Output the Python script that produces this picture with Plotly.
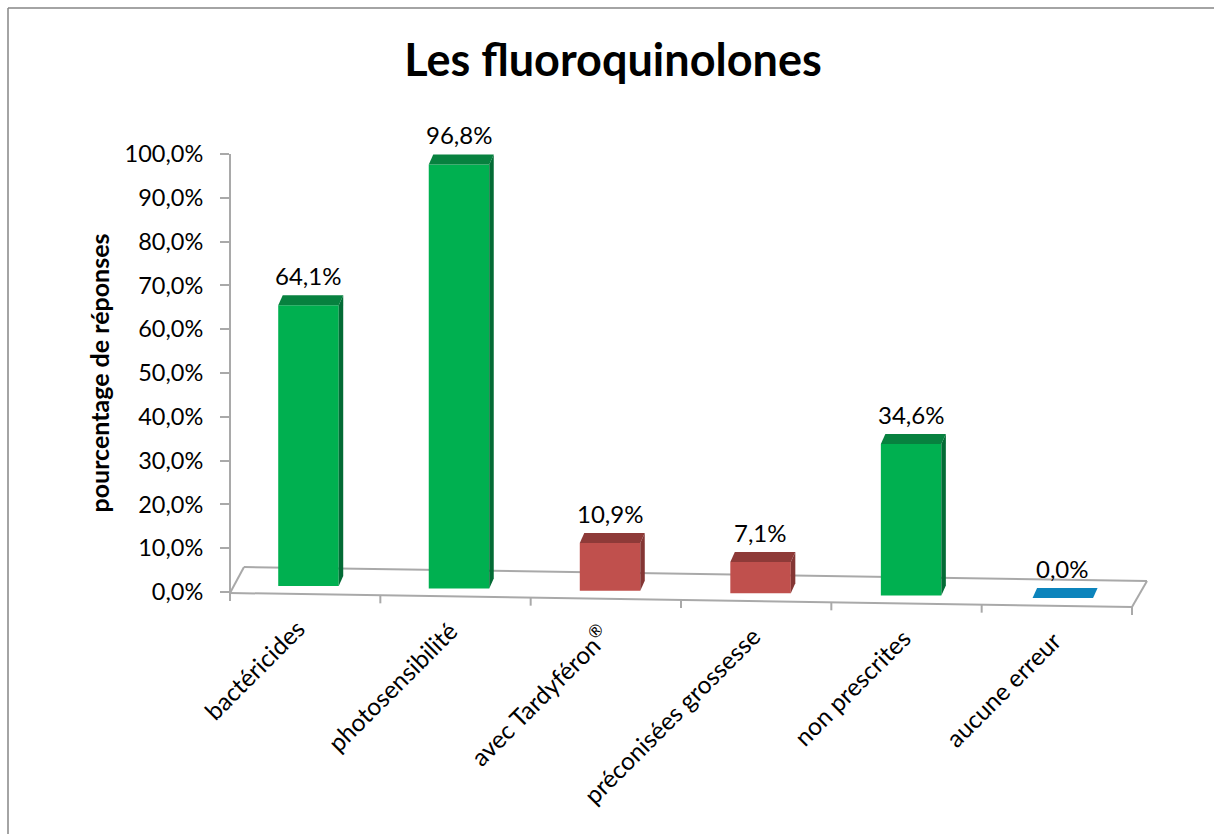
import plotly.graph_objects as go

# --- data ---
categories = ["bactéricides", "photosensibilité", "avec Tardyféron®",
              "préconisées grossesse", "non prescrites", "aucune erreur"]
values = [64.1, 96.8, 10.9, 7.1, 34.6, 0.0]
value_labels = ["64,1%", "96,8%", "10,9%", "7,1%", "34,6%", "0,0%"]
y_ticks = [0, 10, 20, 30, 40, 50, 60, 70, 80, 90, 100]

front_colors = ["#00B050", "#00B050", "#C0504D", "#C0504D", "#00B050", "#0C84BC"]
top_colors = ["#07813F", "#07813F", "#8E3A38", "#8E3A38", "#07813F", "#0C84BC"]
side_colors = ["#036B35", "#036B35", "#843634", "#843634", "#036B35", "#0C84BC"]

# --- layout geometry (pixels of the 1214x834 page) ---
W, H = 1214, 834
PL, PR, PT, PB = 230, 1132, 106, 640      # plot area
Y0, PX_PER_UNIT = 592, 4.38               # pixel of value 0, pixels per value unit
PX_PER_CAT = (PR - PL) / len(categories)
X_RANGE = [-0.5, len(categories) - 0.5]
Y_RANGE = [(Y0 - PB) / PX_PER_UNIT, (Y0 - PT) / PX_PER_UNIT]


def dx(px):
    return px / PX_PER_CAT


def dy(px):
    return px / PX_PER_UNIT


def xd(px):
    return (px - PL) / PX_PER_CAT - 0.5


def yd(px):
    return (Y0 - px) / PX_PER_UNIT


def xp(px):
    return (px - PL) / (PR - PL)


def yp(px):
    return (PB - px) / (PB - PT)


# sloped floor: every bar stands a little lower than the previous one
BAR_W = dx(60.5)
SHIFT = [dx(s) for s in (3.3, 3.5, 4.2, 4.4, 4.6, 6.0)]
DEPTH_X, DEPTH_Y = dx(4.5), dy(10)
bases = [dy(6 - 2.4 * i) for i in range(len(categories))]
tops = [b + v for b, v in zip(bases, values)]
x_pos = list(range(len(categories)))
lefts = [x + s - BAR_W / 2 for x, s in zip(x_pos, SHIFT)]
rights = [l + BAR_W for l in lefts]

fig = go.Figure()

# front faces
fig.add_trace(go.Bar(
    x=x_pos, y=values, base=bases, width=BAR_W,
    offset=[s - BAR_W / 2 for s in SHIFT],
    marker=dict(color=front_colors, line=dict(width=0)),
    hoverinfo="skip", showlegend=False,
))

# side and top faces derived from the same values
for i in range(len(categories)):
    if values[i] > 0:
        fig.add_trace(go.Scatter(
            x=[rights[i], rights[i] + DEPTH_X, rights[i] + DEPTH_X, rights[i], rights[i]],
            y=[bases[i], bases[i] + DEPTH_Y, tops[i] + DEPTH_Y, tops[i], bases[i]],
            mode="lines", fill="toself", fillcolor=side_colors[i],
            line=dict(width=0), hoverinfo="skip", showlegend=False,
        ))
    fig.add_trace(go.Scatter(
        x=[lefts[i], rights[i], rights[i] + DEPTH_X, lefts[i] + DEPTH_X, lefts[i]],
        y=[tops[i], tops[i], tops[i] + DEPTH_Y, tops[i] + DEPTH_Y, tops[i]],
        mode="lines", fill="toself", fillcolor=top_colors[i],
        line=dict(width=0), hoverinfo="skip", showlegend=False,
    ))

AXIS = "#A9A9A9"
shapes = []


def seg(x0, y0, x1, y1, color=AXIS, width=2):
    shapes.append(dict(type="line", xref="paper", yref="paper", layer="below",
                       x0=xp(x0), y0=yp(y0), x1=xp(x1), y1=yp(y1),
                       line=dict(color=color, width=width)))


# y axis line, floor outline, category ticks
seg(230, 154, 230, 593)
seg(230, 593, 244, 567)
seg(244, 567, 1147, 581)
seg(1147, 581, 1132, 607)
seg(230, 593, 1132, 607)
for k in range(len(categories) + 1):
    tx = PL + k * PX_PER_CAT
    ty = 593 + (607 - 593) * k / len(categories)
    seg(tx, ty, tx, ty + 8)

# outer chart border
seg(8, 8, W, 8, color="#868686", width=1.5)
seg(8, 8, 8, H, color="#868686", width=1.5)

FONT = "Lato, Carlito, sans-serif"
annotations = []
# value labels
for i in range(len(categories)):
    annotations.append(dict(
        x=x_pos[i] + SHIFT[i], y=tops[i], xref="x", yref="y", text=value_labels[i],
        showarrow=False, xanchor="center", yanchor="middle", yshift=30,
        font=dict(family=FONT, size=24, color="#000000"),
    ))
# category labels, rotated, following the sloped floor
for i in range(len(categories)):
    annotations.append(dict(
        x=x_pos[i] + dx(8 + min(i * 2, 4)), y=yd(611 + 2.4 * i), xref="x", yref="y",
        text=categories[i].replace("®", "<sup>®</sup>"),
        showarrow=False, xanchor="right", yanchor="top", textangle=-45,
        font=dict(family=FONT, size=24.5, color="#000000"),
    ))

fig.update_layout(
    width=W, height=H,
    margin=dict(l=PL, r=W - PR, t=PT, b=H - PB, pad=0),
    paper_bgcolor="#FFFFFF", plot_bgcolor="rgba(0,0,0,0)",
    showlegend=False,
    title=dict(text="<b>Les fluoroquinolones</b>", x=613 / W, xref="container", xanchor="center",
               y=1 - 60 / H, yref="container", yanchor="middle",
               font=dict(family=FONT, size=45, color="#000000")),
    xaxis=dict(range=X_RANGE, showticklabels=False, showgrid=False, zeroline=False,
               showline=False, ticks=""),
    yaxis=dict(range=Y_RANGE, tickmode="array", tickvals=y_ticks,
               ticktext=[f"{t},0%" for t in y_ticks],
               showgrid=False, zeroline=False, showline=False,
               ticks="outside", ticklen=9, tickwidth=2, tickcolor=AXIS,
               ticklabelstandoff=12,
               tickfont=dict(family=FONT, size=23.5, color="#000000"),
               title=dict(text="<b>pourcentage de réponses</b>", standoff=7,
                          font=dict(family=FONT, size=25, color="#000000"))),
    shapes=shapes, annotations=annotations,
)

fig.write_html("out.html", config={"displayModeBar": False},
               post_script="document.body.style.margin='0';document.body.style.overflow='hidden';")
